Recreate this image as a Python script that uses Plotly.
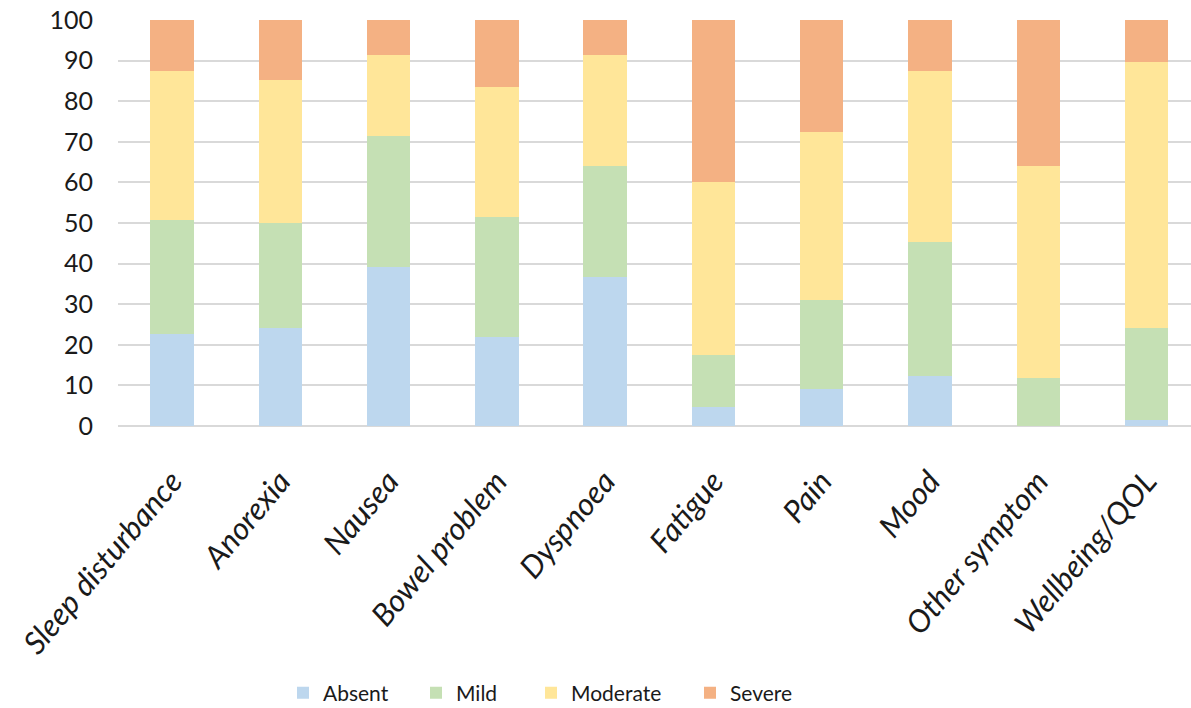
import plotly.graph_objects as go

categories = ["Sleep disturbance", "Anorexia", "Nausea", "Bowel problem", "Dyspnoea",
              "Fatigue", "Pain", "Mood", "Other symptom", "Wellbeing/QOL"]
absent = [22.6, 24.1, 39.2, 21.8, 36.8, 4.8, 9.0, 12.4, 0.0, 1.6]
mild = [28.1, 26.0, 32.3, 29.6, 27.2, 12.7, 22.1, 33.0, 11.9, 22.5]
moderate = [36.7, 35.0, 20.0, 32.1, 27.4, 42.5, 41.4, 42.0, 52.1, 65.6]
severe = [12.6, 14.9, 8.5, 16.5, 8.6, 40.0, 27.5, 12.6, 36.0, 10.3]
y_ticks = [0, 10, 20, 30, 40, 50, 60, 70, 80, 90, 100]

series_names = ["Absent", "Mild", "Moderate", "Severe"]
series_values = [absent, mild, moderate, severe]
series_colors = ["#BDD7EE", "#C5E0B4", "#FFE699", "#F4B183"]
legend_ids = ["legend", "legend2", "legend3", "legend4"]
legend_left_px = [283, 416, 531, 690]

font_family = "Lato, Liberation Sans, Arial, sans-serif"

fig = go.Figure()
for name, vals, col, lg in zip(series_names, series_values, series_colors, legend_ids):
    fig.add_trace(go.Bar(x=categories, y=vals, name=name, marker_color=col,
                         marker_line_width=0, legend=lg, showlegend=True))

legend_common = dict(orientation="h", xref="container", yref="container",
                     xanchor="left", y=0.021, yanchor="middle",
                     font=dict(size=21, family=font_family), itemwidth=30,
                     bgcolor="rgba(0,0,0,0)")
legends = {}
for lg, px in zip(legend_ids, legend_left_px):
    legends[lg] = dict(legend_common, x=px / 1191)

fig.update_layout(
    width=1191, height=708,
    showlegend=True,
    barmode="stack", bargap=0.6,
    plot_bgcolor="white", paper_bgcolor="white",
    margin=dict(l=118, r=0, t=20, b=282),
    font=dict(family=font_family, color="#1a1a1a", size=22),
    xaxis=dict(range=[-0.5, 9.412], tickangle=-50, showgrid=False, showline=False,
               ticks="", tickfont=dict(size=31, family=font_family),
               ticklabelstandoff=30, automargin=False,
               tickvals=categories, ticktext=[f"<i>{c}</i>" for c in categories]),
    yaxis=dict(range=[0, 100], tickvals=y_ticks, showgrid=True, gridcolor="#D9D9D9",
               gridwidth=2, zeroline=True, zerolinecolor="#D9D9D9", zerolinewidth=2,
               ticks="", ticklabelstandoff=24, tickfont=dict(size=25),
               automargin=False),
    **legends,
)

fig.write_html("out.html")
